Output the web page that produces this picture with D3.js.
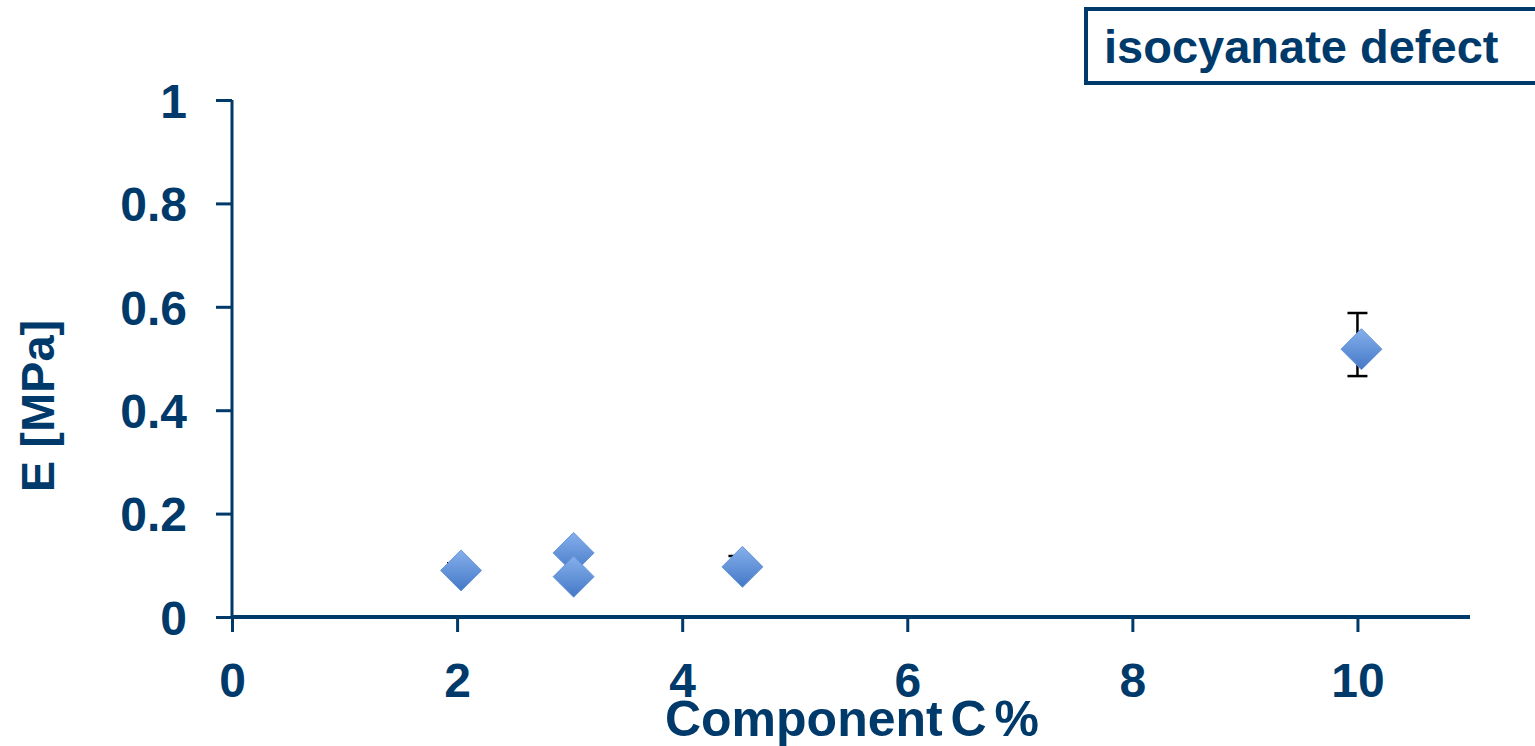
<!DOCTYPE html>
<html>
<head>
<meta charset="utf-8">
<script src="https://cdn.jsdelivr.net/npm/d3@7"></script>
<style>
  html, body { margin: 0; padding: 0; background: #fff; }
  svg { display: block; }
  text { font-family: "Liberation Sans", Arial, sans-serif; font-weight: bold; fill: #003a6b; }
</style>
</head>
<body>
<svg id="chart" width="1535" height="746"></svg>
<script>
// Measurements: component C content vs. modulus E
const componentC = [2, 3, 3, 4.5, 10];
const modulusE   = [0.09, 0.124, 0.078, 0.097, 0.518];
const errLow     = [0.083, 0.124, 0.078, 0.086, 0.466];
const errHigh    = [0.104, 0.124, 0.078, 0.118, 0.588];
const xTicks = [0, 2, 4, 6, 8, 10];
const yTicks = [0, 0.2, 0.4, 0.6, 0.8, 1];
const yTickLabels = ["0", "0.2", "0.4", "0.6", "0.8", "1"];
const seriesName = "isocyanate defect";

const navy = "#003a6b";
const svg = d3.select("#chart");

const x = d3.scaleLinear().domain([0, 11]).range([232, 1470]);
const y = d3.scaleLinear().domain([0, 1]).range([617, 100]);

// Marker gradient
const defs = svg.append("defs");
const grad = defs.append("linearGradient").attr("id", "mk").attr("x1", 0).attr("y1", 0).attr("x2", 0).attr("y2", 1);
grad.append("stop").attr("offset", "0%").attr("stop-color", "#86b0ec");
grad.append("stop").attr("offset", "100%").attr("stop-color", "#4478c6");

// Y axis
const yAxis = svg.append("g")
  .attr("transform", `translate(${x(0)},0)`)
  .call(d3.axisLeft(y).tickValues(yTicks).tickFormat((d, i) => yTickLabels[i]).tickSize(16).tickPadding(29));
yAxis.select(".domain").attr("stroke", navy).attr("stroke-width", 3).attr("d", `M0,${y(1)}V${y(0)}`);
yAxis.selectAll(".tick line").attr("stroke", navy).attr("stroke-width", 3);
yAxis.selectAll(".tick text").attr("fill", navy).style("font-size", "48px").attr("dy", "0.36em");

// X axis
const xAxis = svg.append("g")
  .attr("transform", `translate(0,${y(0)})`)
  .call(d3.axisBottom(x).tickValues(xTicks).tickSize(15).tickPadding(31));
xAxis.select(".domain").attr("stroke", navy).attr("stroke-width", 4).attr("d", `M${x(0)},0H${x(11)}`);
xAxis.selectAll(".tick line").attr("stroke", navy).attr("stroke-width", 3);
xAxis.selectAll(".tick text").attr("fill", navy).style("font-size", "48px");

// Axis titles
svg.append("text").attr("x", 852).attr("y", 736).attr("text-anchor", "middle")
  .style("font-size", "50px").style("word-spacing", "-6px").text("Component C %");
svg.append("text").attr("transform", `translate(54,406) rotate(-90)`).attr("text-anchor", "middle")
  .style("font-size", "47px").text("E [MPa]");

// Error bars
const pts = componentC.map((c, i) => ({ c, e: modulusE[i], lo: errLow[i], hi: errHigh[i] }));
const eb = svg.append("g").attr("stroke", "#000").attr("stroke-width", 2.5);
pts.filter(d => d.hi > d.lo).forEach(d => {
  eb.append("line").attr("x1", x(d.c)).attr("x2", x(d.c)).attr("y1", y(d.hi)).attr("y2", y(d.lo));
  eb.append("line").attr("x1", x(d.c) - 10).attr("x2", x(d.c) + 10).attr("y1", y(d.hi)).attr("y2", y(d.hi));
  eb.append("line").attr("x1", x(d.c) - 10).attr("x2", x(d.c) + 10).attr("y1", y(d.lo)).attr("y2", y(d.lo));
});

// Diamond markers (drawn slightly right of the error-bar centre line)
const markerShift = 4;
const diamond = "M0,-20.5L20.5,0L0,20.5L-20.5,0Z";
svg.append("g").selectAll("path").data(pts).join("path")
  .attr("transform", d => `translate(${x(d.c) + markerShift},${y(d.e)})`)
  .attr("d", diamond)
  .attr("fill", "url(#mk)")
  .attr("stroke", "#6a98dc").attr("stroke-width", 1);

// Legend box
svg.append("rect").attr("x", 1086).attr("y", 9).attr("width", 470).attr("height", 74)
  .attr("fill", "#fff").attr("stroke", navy).attr("stroke-width", 4);
svg.append("text").attr("x", 1104).attr("y", 63).style("font-size", "47px").text(seriesName);
</script>
</body>
</html>
